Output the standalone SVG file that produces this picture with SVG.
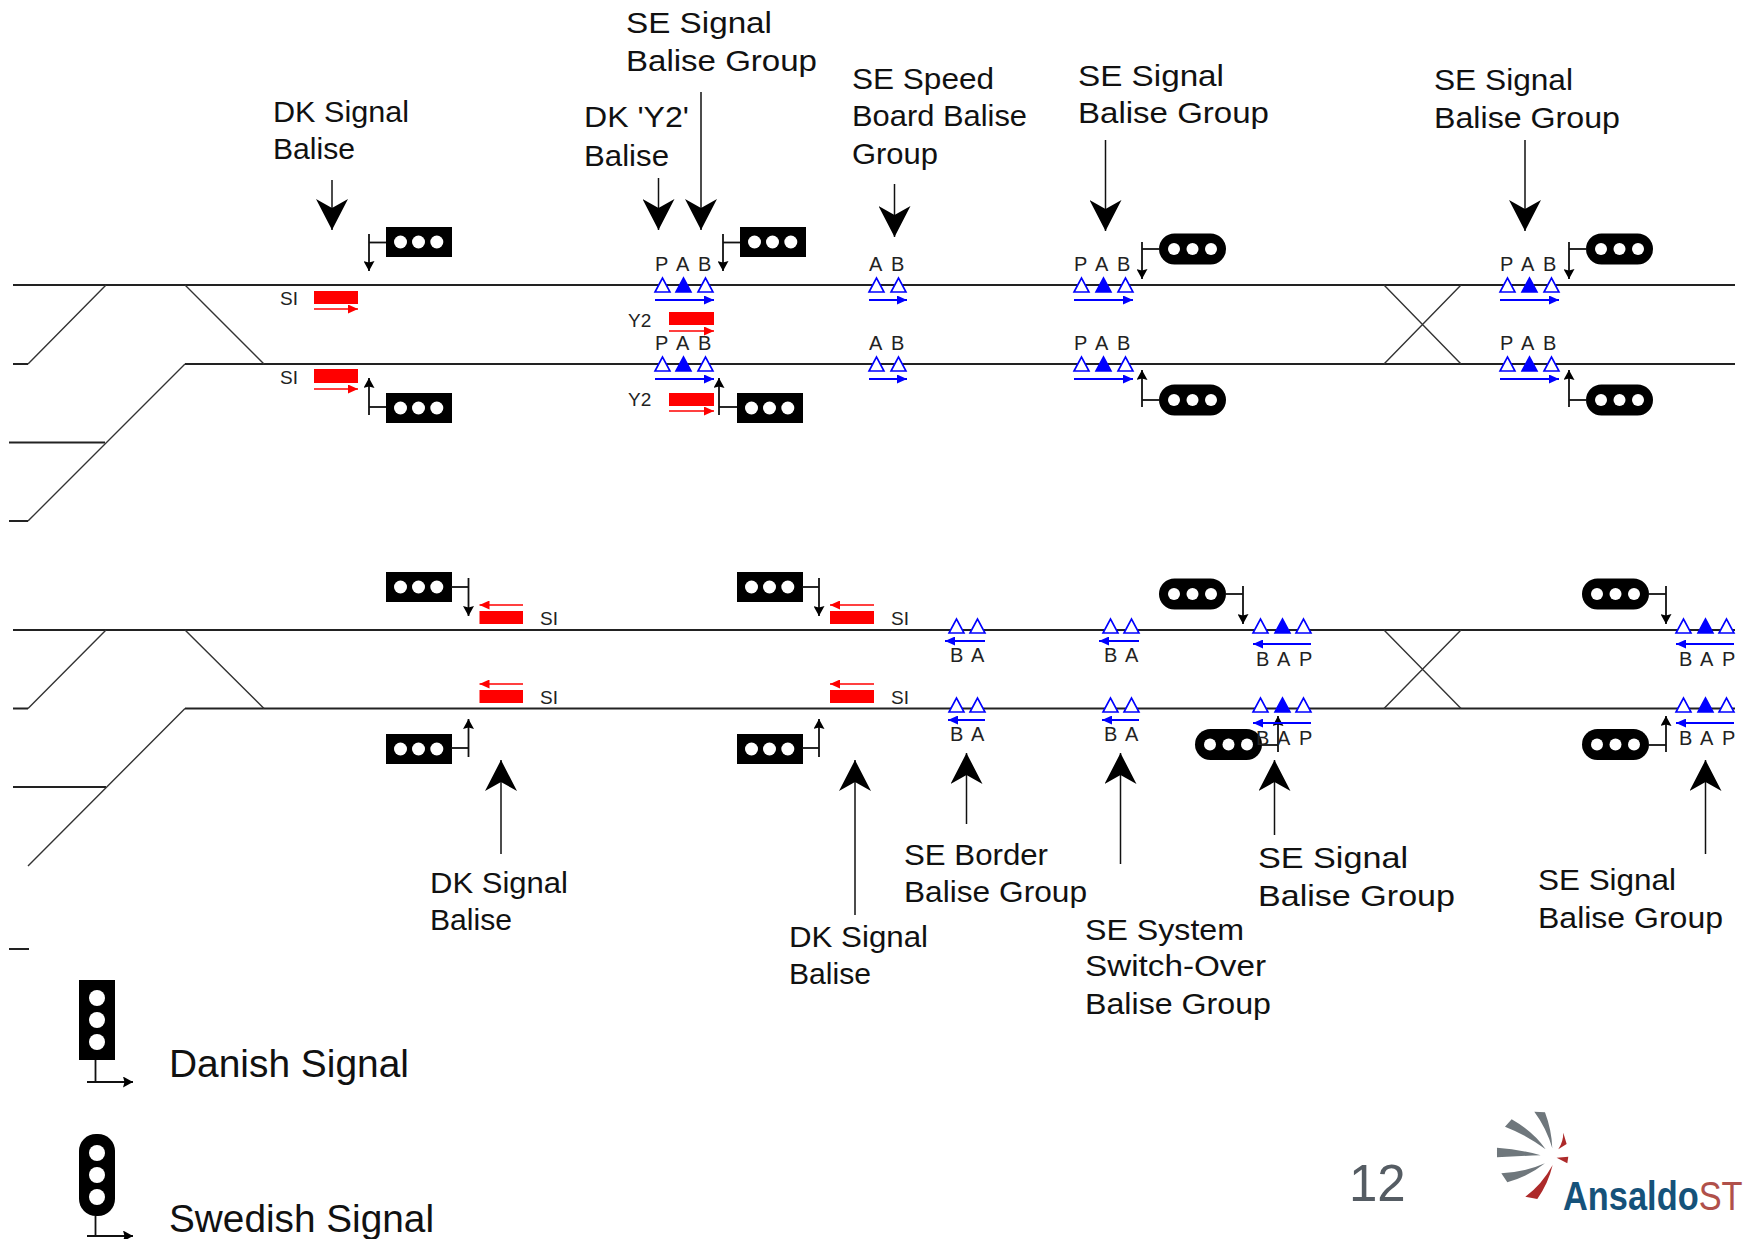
<svg xmlns="http://www.w3.org/2000/svg" width="1745" height="1239" viewBox="0 0 1745 1239">
<style>
text{font-family:"Liberation Sans",Arial,sans-serif;fill:#111}
.lbl{font-size:30px}
.leg{font-size:38px}
.t{font-size:20px;letter-spacing:.5px;fill:#222}
.si{font-size:19px;fill:#222}
.trk{stroke:#222;stroke-width:2;fill:none}
.thin{stroke:#333;stroke-width:1.4;fill:none}
.big{stroke:#111;stroke-width:1.5;fill:none;marker-end:url(#bigh)}
.stem{stroke:#111;stroke-width:1.8;fill:none}
.sa{marker-end:url(#smh)}
.bl{stroke:#00f;stroke-width:1.8;fill:none;marker-end:url(#blh)}
.rd{stroke:#f00;stroke-width:1.6;fill:none;marker-end:url(#rdh)}
.rr{fill:#f00}
.o{fill:#fff;stroke:#00f;stroke-width:1.6}
.f{fill:#00f;stroke:#00f;stroke-width:1.6}
.lamp{fill:#fff}
.grey{fill:#6f777c}
.lred{fill:#ad2a2a}
</style>
<defs>
<marker id="bigh" markerUnits="userSpaceOnUse" markerWidth="32" markerHeight="32" refX="31" refY="16" orient="auto"><path d="M31,16L0,0L9,16L0,32Z" fill="#000"/></marker>
<marker id="smh" markerUnits="userSpaceOnUse" markerWidth="10" markerHeight="11" refX="10" refY="5.5" orient="auto"><path d="M10,5.5L0,0L1.5,5.5L0,11Z" fill="#000"/></marker>
<marker id="blh" markerUnits="userSpaceOnUse" markerWidth="10" markerHeight="9" refX="10" refY="4.5" orient="auto"><path d="M10,4.5L0,0V9Z" fill="#00f"/></marker>
<marker id="rdh" markerUnits="userSpaceOnUse" markerWidth="10" markerHeight="9" refX="10" refY="4.5" orient="auto"><path d="M10,4.5L0,0V9Z" fill="#f00"/></marker>
<g id="dk"><rect width="66" height="30" fill="#000"/><circle class="lamp" cx="14.5" cy="15" r="6.5"/><circle class="lamp" cx="32.5" cy="15" r="6.5"/><circle class="lamp" cx="50.8" cy="15" r="6.5"/></g>
<g id="se"><rect width="67" height="31" rx="15.5" fill="#000"/><circle class="lamp" cx="15" cy="15.5" r="6"/><circle class="lamp" cx="33.5" cy="15.5" r="6"/><circle class="lamp" cx="52" cy="15.5" r="6"/></g>
<polygon id="to" class="o" points="0,14 7.5,0 15,14"/>
<polygon id="tf" class="f" points="0,14 7.5,0 15,14"/>
</defs>
<rect width="1745" height="1239" fill="#fff"/>

<g id="connectors">
<g id="tracks">
<path class="trk" d="M13,285H1735M13,364H28M185,364H1735M9,442.500H105M9,521H28"/>
<path class="thin" d="M106,285L28,364M185,285L264,364M185,364L28,521M1384,285L1461,364M1461,285L1384,364"/>
<path class="trk" d="M13,630H1735M13,708.500H28M185,708.500H1735M13,787H106M9,949H29"/>
<path class="thin" d="M106,630L28,708.500M185,630L264,708.500M185,708.500L28,866M1384,630L1461,708.500M1461,630L1384,708.500"/>
</g>
<g id="label-arrows">
<path class="big" d="M332,180V230"/>
<path class="big" d="M658.500,178V230"/>
<path class="big" d="M701,92V230"/>
<path class="big" d="M894.500,184V237"/>
<path class="big" d="M1105.500,140V231"/>
<path class="big" d="M1525,140V231"/>
<path class="big" d="M501,854V760"/>
<path class="big" d="M855,915V760"/>
<path class="big" d="M966.500,824V753"/>
<path class="big" d="M1120.500,864V753"/>
<path class="big" d="M1274.500,835V760"/>
<path class="big" d="M1705.500,854V760"/>
</g>
</g>

<g id="sig-dk-t1"><use href="#dk" x="386" y="227"/><path class="stem" d="M369,242.500H386"/><path class="stem sa" d="M369,234V271"/></g>
<g id="sig-dk-t2"><use href="#dk" x="740" y="227"/><path class="stem" d="M723,242.500H740"/><path class="stem sa" d="M723,234V271"/></g>
<g id="sig-dk-b1"><use href="#dk" x="386" y="393"/><path class="stem" d="M369,407H386"/><path class="stem sa" d="M369,415V378"/></g>
<g id="sig-dk-b2"><use href="#dk" x="737" y="393"/><path class="stem" d="M719,407H737"/><path class="stem sa" d="M719,415V378"/></g>
<g id="sig-se-t1"><use href="#se" x="1159" y="233.500"/><path class="stem" d="M1142,249H1160"/><path class="stem sa" d="M1142,242V279"/></g>
<g id="sig-se-t2"><use href="#se" x="1159" y="384.500"/><path class="stem" d="M1142,400H1160"/><path class="stem sa" d="M1142,407V370"/></g>
<g id="sig-se-t3"><use href="#se" x="1586" y="233.500"/><path class="stem" d="M1569,249H1587"/><path class="stem sa" d="M1569,242V279"/></g>
<g id="sig-se-t4"><use href="#se" x="1586" y="384.500"/><path class="stem" d="M1569,400H1587"/><path class="stem sa" d="M1569,407V370"/></g>

<g id="sig-dk-l1"><use href="#dk" x="386" y="572"/><path class="stem" d="M451,587H468.500"/><path class="stem sa" d="M468.500,578V616"/></g>
<g id="sig-dk-l2"><use href="#dk" x="737" y="572"/><path class="stem" d="M802,587H819"/><path class="stem sa" d="M819,578V616"/></g>
<g id="sig-dk-l3"><use href="#dk" x="386" y="734"/><path class="stem" d="M451,748H468.500"/><path class="stem sa" d="M468.500,757V719"/></g>
<g id="sig-dk-l4"><use href="#dk" x="737" y="734"/><path class="stem" d="M802,748H819"/><path class="stem sa" d="M819,757V719"/></g>
<g id="sig-se-l1"><use href="#se" x="1159" y="578.500"/><path class="stem" d="M1225,594H1243"/><path class="stem sa" d="M1243,586V624"/></g>
<g id="sig-se-l2"><use href="#se" x="1195" y="729"/><path class="stem" d="M1261,745H1278"/><path class="stem sa" d="M1278,752V716"/></g>
<g id="sig-se-l3"><use href="#se" x="1582" y="578.500"/><path class="stem" d="M1648,594H1666"/><path class="stem sa" d="M1666,586V624"/></g>
<g id="sig-se-l4"><use href="#se" x="1582" y="729"/><path class="stem" d="M1648,745H1666"/><path class="stem sa" d="M1666,752V716"/></g>

<g id="red-si-1"><text class="si" x="280" y="305">SI</text><rect class="rr" x="314" y="291" width="44" height="13"/><path class="rd" d="M314,309H358"/></g>
<g id="red-si-2"><text class="si" x="280" y="384">SI</text><rect class="rr" x="314" y="369" width="44" height="14"/><path class="rd" d="M314,389H358"/></g>
<g id="red-y2-1"><text class="si" x="628" y="327">Y2</text><rect class="rr" x="669" y="312" width="45" height="13"/><path class="rd" d="M669,331H714"/></g>
<g id="red-y2-2"><text class="si" x="628" y="406">Y2</text><rect class="rr" x="669" y="393" width="45" height="13"/><path class="rd" d="M669,411H714"/></g>
<g id="red-si-3"><rect class="rr" x="479.500" y="611" width="43.500" height="13"/><path class="rd" d="M523,605H479.500"/><text class="si" x="540" y="625">SI</text></g>
<g id="red-si-4"><rect class="rr" x="830" y="611" width="44" height="13"/><path class="rd" d="M874,605H830"/><text class="si" x="891" y="625">SI</text></g>
<g id="red-si-5"><rect class="rr" x="479.500" y="690" width="43.500" height="13"/><path class="rd" d="M523,684H479.500"/><text class="si" x="540" y="704">SI</text></g>
<g id="red-si-6"><rect class="rr" x="830" y="690" width="44" height="13"/><path class="rd" d="M874,684H830"/><text class="si" x="891" y="704">SI</text></g>

<g id="bg-1"><text class="t" x="655" y="271">P</text><text class="t" x="676" y="271">A</text><text class="t" x="698" y="271">B</text><use href="#to" x="655" y="278"/><use href="#tf" x="676" y="278"/><use href="#to" x="698" y="278"/><path class="bl" d="M655,300H714"/></g>
<g id="bg-2"><text class="t" x="655" y="350">P</text><text class="t" x="676" y="350">A</text><text class="t" x="698" y="350">B</text><use href="#to" x="655" y="357"/><use href="#tf" x="676" y="357"/><use href="#to" x="698" y="357"/><path class="bl" d="M655,379H714"/></g>
<g id="bg-3"><text class="t" x="869" y="271">A</text><text class="t" x="891" y="271">B</text><use href="#to" x="869" y="278"/><use href="#to" x="891" y="278"/><path class="bl" d="M869,300H907"/></g>
<g id="bg-4"><text class="t" x="869" y="350">A</text><text class="t" x="891" y="350">B</text><use href="#to" x="869" y="357"/><use href="#to" x="891" y="357"/><path class="bl" d="M869,379H907"/></g>
<g id="bg-5"><text class="t" x="1074" y="271">P</text><text class="t" x="1095" y="271">A</text><text class="t" x="1117" y="271">B</text><use href="#to" x="1074" y="278"/><use href="#tf" x="1096" y="278"/><use href="#to" x="1118" y="278"/><path class="bl" d="M1074,300H1133"/></g>
<g id="bg-6"><text class="t" x="1074" y="350">P</text><text class="t" x="1095" y="350">A</text><text class="t" x="1117" y="350">B</text><use href="#to" x="1074" y="357"/><use href="#tf" x="1096" y="357"/><use href="#to" x="1118" y="357"/><path class="bl" d="M1074,379H1133"/></g>
<g id="bg-7"><text class="t" x="1500" y="271">P</text><text class="t" x="1521" y="271">A</text><text class="t" x="1543" y="271">B</text><use href="#to" x="1500" y="278"/><use href="#tf" x="1522" y="278"/><use href="#to" x="1544" y="278"/><path class="bl" d="M1500,300H1559"/></g>
<g id="bg-8"><text class="t" x="1500" y="350">P</text><text class="t" x="1521" y="350">A</text><text class="t" x="1543" y="350">B</text><use href="#to" x="1500" y="357"/><use href="#tf" x="1522" y="357"/><use href="#to" x="1544" y="357"/><path class="bl" d="M1500,379H1559"/></g>

<g id="bg-9"><use href="#to" x="949" y="619"/><use href="#to" x="970" y="619"/><path class="bl" d="M985,641H945"/><text class="t" x="950" y="662">B</text><text class="t" x="971" y="662">A</text></g>
<g id="bg-10"><use href="#to" x="949" y="698"/><use href="#to" x="970" y="698"/><path class="bl" d="M985,720H948"/><text class="t" x="950" y="741">B</text><text class="t" x="971" y="741">A</text></g>
<g id="bg-11"><use href="#to" x="1103" y="619"/><use href="#to" x="1124" y="619"/><path class="bl" d="M1139,641H1099"/><text class="t" x="1104" y="662">B</text><text class="t" x="1125" y="662">A</text></g>
<g id="bg-12"><use href="#to" x="1103" y="698"/><use href="#to" x="1124" y="698"/><path class="bl" d="M1139,720H1102"/><text class="t" x="1104" y="741">B</text><text class="t" x="1125" y="741">A</text></g>
<g id="bg-13"><use href="#to" x="1253" y="619"/><use href="#tf" x="1275" y="619"/><use href="#to" x="1296" y="619"/><path class="bl" d="M1311,644H1253"/><text class="t" x="1256" y="666">B</text><text class="t" x="1277" y="666">A</text><text class="t" x="1299" y="666">P</text></g>
<g id="bg-14"><text class="t" x="1256" y="745">B</text><text class="t" x="1277" y="745">A</text><text class="t" x="1299" y="745">P</text><use href="#to" x="1253" y="698"/><use href="#tf" x="1275" y="698"/><use href="#to" x="1296" y="698"/><path class="bl" d="M1311,723H1253"/></g>
<g id="bg-15"><use href="#to" x="1676" y="619"/><use href="#tf" x="1698" y="619"/><use href="#to" x="1719" y="619"/><path class="bl" d="M1734,644H1676"/><text class="t" x="1679" y="666">B</text><text class="t" x="1700" y="666">A</text><text class="t" x="1722" y="666">P</text></g>
<g id="bg-16"><use href="#to" x="1676" y="698"/><use href="#tf" x="1698" y="698"/><use href="#to" x="1719" y="698"/><path class="bl" d="M1734,723H1676"/><text class="t" x="1679" y="745">B</text><text class="t" x="1700" y="745">A</text><text class="t" x="1722" y="745">P</text></g>

<g id="labels">
<text class="lbl" x="273" y="122" textLength="136" lengthAdjust="spacingAndGlyphs">DK Signal</text><text class="lbl" x="273" y="159" textLength="82" lengthAdjust="spacingAndGlyphs">Balise</text>
<text class="lbl" x="584" y="127" textLength="105" lengthAdjust="spacingAndGlyphs">DK 'Y2'</text><text class="lbl" x="584" y="166" textLength="85" lengthAdjust="spacingAndGlyphs">Balise</text>
<text class="lbl" x="626" y="33" textLength="146" lengthAdjust="spacingAndGlyphs">SE Signal</text><text class="lbl" x="626" y="71" textLength="191" lengthAdjust="spacingAndGlyphs">Balise Group</text>
<text class="lbl" x="852" y="89" textLength="142" lengthAdjust="spacingAndGlyphs">SE Speed</text><text class="lbl" x="852" y="126" textLength="175" lengthAdjust="spacingAndGlyphs">Board Balise</text><text class="lbl" x="852" y="164" textLength="86" lengthAdjust="spacingAndGlyphs">Group</text>
<text class="lbl" x="1078" y="86" textLength="146" lengthAdjust="spacingAndGlyphs">SE Signal</text><text class="lbl" x="1078" y="123" textLength="191" lengthAdjust="spacingAndGlyphs">Balise Group</text>
<text class="lbl" x="1434" y="90" textLength="139" lengthAdjust="spacingAndGlyphs">SE Signal</text><text class="lbl" x="1434" y="128" textLength="186" lengthAdjust="spacingAndGlyphs">Balise Group</text>
<text class="lbl" x="430" y="893" textLength="138" lengthAdjust="spacingAndGlyphs">DK Signal</text><text class="lbl" x="430" y="930" textLength="82" lengthAdjust="spacingAndGlyphs">Balise</text>
<text class="lbl" x="789" y="947" textLength="139" lengthAdjust="spacingAndGlyphs">DK Signal</text><text class="lbl" x="789" y="984" textLength="82" lengthAdjust="spacingAndGlyphs">Balise</text>
<text class="lbl" x="904" y="865" textLength="144" lengthAdjust="spacingAndGlyphs">SE Border</text><text class="lbl" x="904" y="902" textLength="183" lengthAdjust="spacingAndGlyphs">Balise Group</text>
<text class="lbl" x="1085" y="940" textLength="159" lengthAdjust="spacingAndGlyphs">SE System</text><text class="lbl" x="1085" y="976" textLength="181" lengthAdjust="spacingAndGlyphs">Switch-Over</text><text class="lbl" x="1085" y="1014" textLength="186" lengthAdjust="spacingAndGlyphs">Balise Group</text>
<text class="lbl" x="1258" y="868" textLength="150" lengthAdjust="spacingAndGlyphs">SE Signal</text><text class="lbl" x="1258" y="906" textLength="197" lengthAdjust="spacingAndGlyphs">Balise Group</text>
<text class="lbl" x="1538" y="890" textLength="138" lengthAdjust="spacingAndGlyphs">SE Signal</text><text class="lbl" x="1538" y="928" textLength="185" lengthAdjust="spacingAndGlyphs">Balise Group</text>
</g>

<g id="legend-danish">
<rect x="79" y="980" width="36" height="80" fill="#000"/><circle class="lamp" cx="97" cy="998" r="8"/><circle class="lamp" cx="97" cy="1020" r="8"/><circle class="lamp" cx="97" cy="1042" r="8"/>
<path class="stem" d="M95.500,1060V1082"/><path class="stem" d="M87,1082H133" marker-end="url(#smh)"/>
<text class="leg" x="169" y="1077" textLength="240" lengthAdjust="spacingAndGlyphs">Danish Signal</text>
</g>
<g id="legend-swedish">
<rect x="79" y="1134" width="36" height="82" rx="17" fill="#000"/><circle class="lamp" cx="97" cy="1153" r="8"/><circle class="lamp" cx="97" cy="1175" r="8"/><circle class="lamp" cx="97" cy="1197" r="8"/>
<path class="stem" d="M95.500,1216V1236"/><path class="stem" d="M87,1236H133" marker-end="url(#smh)"/>
<text class="leg" x="169" y="1232" textLength="265" lengthAdjust="spacingAndGlyphs">Swedish Signal</text>
</g>

<g id="page-number"><text x="1349" y="1201" font-size="51" style="fill:#555c63">12</text></g>
<g id="logo">
<g transform="translate(1300,1080) scale(.3333)">
<path class="grey" d="M703,95L735,97Q755,150 757,205Q740,145 703,95Z"/>
<path class="grey" d="M615,140L635,118Q700,155 737,208Q680,165 615,140Z"/>
<path class="grey" d="M591,203Q660,208 722,226Q660,228 591,232Z"/>
<path class="grey" d="M604,280Q680,275 735,250Q685,290 622,307Z"/>
<path class="lred" d="M676,350Q725,315 758,255Q745,310 712,357Z"/>
<path class="lred" d="M790,158L800,192L775,208Q790,185 790,158Z"/>
<path class="lred" d="M770,233L805,230L802,250Z"/>
</g>
<text transform="translate(1563,1210) scale(.86,1)" font-size="40" font-weight="700" style="fill:#15527a">Ansaldo<tspan font-weight="400" style="fill:#b0504a">ST</tspan></text>
</g>
</svg>
